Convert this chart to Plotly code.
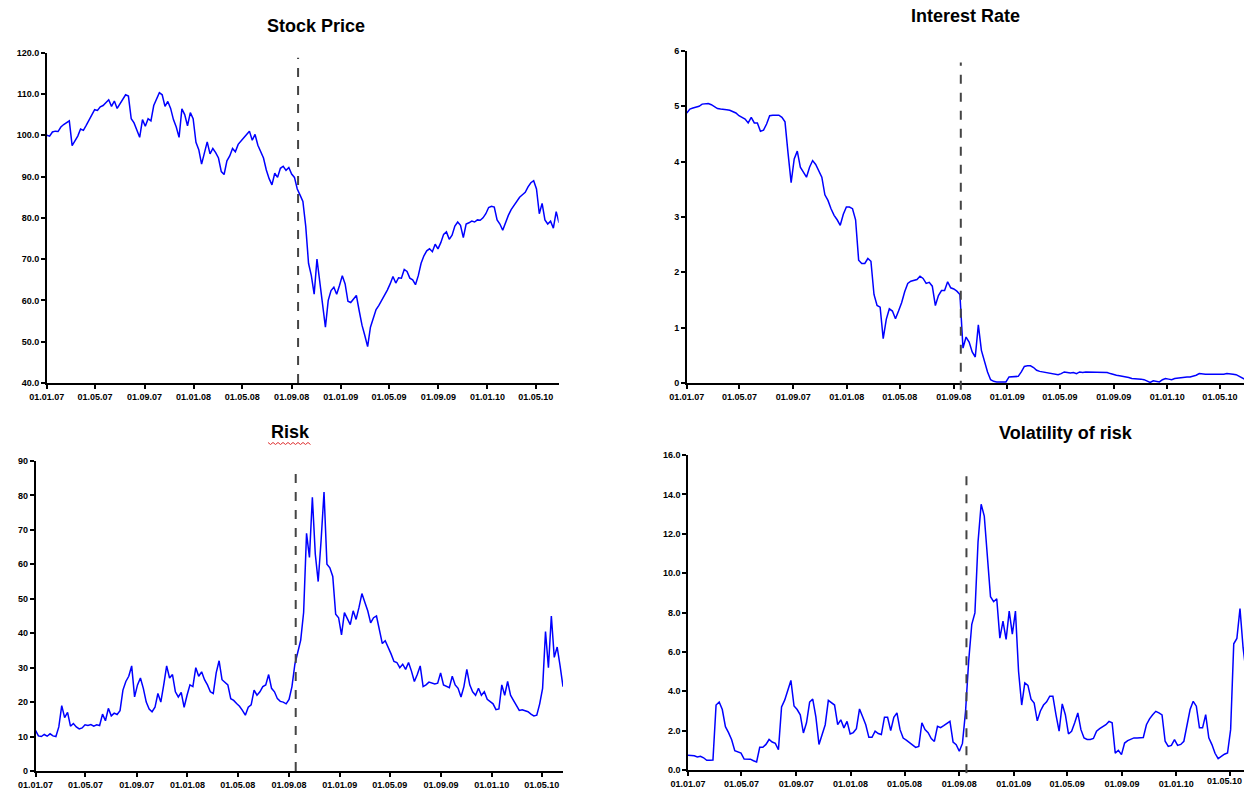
import pandas as pd
import plotly.graph_objects as go

# ---------------- data (weekly readings from the picture) ----------------
dates = pd.date_range("2007-01-01", periods=183, freq="7D")

stock_price = [
    100.0, 99.8, 100.8, 101.0, 100.9, 102.0, 102.6, 103.0, 103.5, 97.5,
    98.6, 99.8, 101.5, 101.2, 102.4, 103.6, 105.0, 106.2, 106.0, 106.9,
    107.2, 107.8, 108.6, 107.0, 108.3, 106.5, 107.6, 108.4, 109.8, 109.5,
    104.0, 103.0, 101.4, 99.5, 103.8, 102.2, 104.0, 103.5, 107.2, 109.0,
    110.3, 109.8, 107.0, 108.2, 106.5, 103.8, 102.0, 99.5, 106.4, 105.0,
    102.3, 105.5, 104.0, 98.3, 96.5, 93.0, 96.0, 98.4, 95.5, 96.8,
    95.8, 94.5, 91.2, 90.5, 93.8, 95.0, 96.8, 96.0, 97.8, 98.5,
    99.4, 100.2, 101.0, 98.8, 100.2, 97.6, 96.0, 94.5, 91.6, 89.5,
    88.0, 90.8, 89.8, 92.0, 92.5, 91.5, 92.2, 90.6, 89.8, 87.0,
    85.5, 84.0, 78.0, 69.0, 66.0, 61.5, 70.0, 64.5, 59.5, 53.5,
    60.0, 62.4, 63.2, 61.5, 63.6, 66.0, 64.0, 59.8, 59.5, 60.5,
    61.2, 57.5, 54.0, 51.5, 48.8, 53.5, 55.8, 57.8, 58.8, 60.0,
    61.0, 62.5, 64.0, 65.8, 64.2, 65.5, 65.4, 67.5, 67.0, 65.4,
    65.0, 63.8, 66.0, 69.0, 70.8, 72.0, 72.5, 71.8, 73.6, 72.5,
    74.0, 76.0, 76.6, 74.8, 75.8, 78.0, 79.0, 78.2, 75.2, 78.5,
    78.8, 79.2, 79.0, 79.5, 79.4, 80.0, 81.0, 82.5, 82.8, 82.6,
    79.5, 78.5, 77.0, 79.0, 80.6, 82.0, 83.0, 84.0, 85.0, 85.6,
    86.2, 87.5, 88.5, 89.0, 87.0, 81.0, 83.5, 79.5, 78.5, 79.2,
    77.5, 81.5, 78.8,
]

interest_rate = [
    4.88, 4.95, 4.97, 4.99, 5.00, 5.04, 5.05, 5.05, 5.03, 5.00,
    4.96, 4.95, 4.95, 4.94, 4.93, 4.91, 4.88, 4.83, 4.80, 4.77,
    4.70, 4.80, 4.70, 4.70, 4.55, 4.57, 4.68, 4.83, 4.84, 4.84,
    4.84, 4.80, 4.72, 4.15, 3.62, 4.05, 4.19, 3.90, 3.80, 3.72,
    3.90, 4.02, 3.95, 3.82, 3.72, 3.40, 3.30, 3.15, 3.03, 2.95,
    2.85, 3.05, 3.18, 3.18, 3.15, 2.95, 2.22, 2.16, 2.16, 2.25,
    2.20, 1.60, 1.40, 1.37, 0.80, 1.15, 1.34, 1.30, 1.16, 1.30,
    1.45, 1.65, 1.80, 1.84, 1.86, 1.87, 1.93, 1.89, 1.80, 1.82,
    1.75, 1.40, 1.58, 1.67, 1.67, 1.83, 1.72, 1.70, 1.66, 1.60,
    0.63, 0.83, 0.74, 0.56, 0.47, 1.05, 0.59, 0.38, 0.20, 0.06,
    0.03, 0.02, 0.02, 0.02, 0.02, 0.11, 0.11, 0.11, 0.12, 0.20,
    0.30, 0.31, 0.31, 0.28, 0.23, 0.21, 0.20, 0.19, 0.19, 0.18,
    0.17, 0.15, 0.17, 0.20, 0.19, 0.18, 0.19, 0.17, 0.20, 0.19,
    0.20, 0.20, 0.20, 0.20, 0.20, 0.20, 0.20, 0.19, 0.17, 0.15,
    0.14, 0.13, 0.12, 0.12, 0.10, 0.08, 0.08, 0.07, 0.07, 0.06,
    0.04, 0.01, 0.04, 0.03, 0.02, 0.06, 0.08, 0.07, 0.06, 0.08,
    0.09, 0.10, 0.11, 0.11, 0.11, 0.12, 0.14, 0.17, 0.16, 0.16,
    0.16, 0.16, 0.16, 0.16, 0.15, 0.16, 0.17, 0.17, 0.16, 0.15,
    0.12, 0.08, 0.06,
]

risk = [
    11.8, 10.2, 10.0, 10.6, 10.1, 10.8, 10.2, 10.0, 12.8, 19.0,
    15.5, 17.0, 13.0, 13.8, 12.8, 12.2, 12.5, 13.4, 13.2, 13.5,
    13.0, 13.4, 13.2, 16.5, 14.6, 18.2, 16.0, 16.8, 16.4, 17.5,
    23.5, 26.0, 27.5, 30.5, 21.5, 25.0, 27.0, 24.0, 20.0, 18.0,
    17.2, 18.5, 22.5, 20.0, 25.0, 30.5, 27.0, 28.0, 23.0, 21.5,
    22.8, 18.5, 22.0, 25.0, 24.5, 30.0, 27.5, 28.8, 26.5, 25.0,
    23.0, 22.5, 28.5, 32.0, 26.5, 25.8, 25.0, 21.0, 20.5, 19.6,
    18.8, 17.6, 16.2, 18.5, 19.2, 23.5, 22.0, 23.0, 24.5, 25.0,
    28.0, 24.0, 23.0, 21.0, 20.2, 20.0, 19.5, 20.8, 24.5, 31.0,
    34.5, 38.0, 46.0, 69.0, 62.0, 79.5, 63.0, 55.0, 67.0, 81.0,
    60.0, 59.0, 56.5, 45.5, 44.5, 39.5, 46.0, 44.0, 42.5, 46.5,
    44.0, 47.5, 51.5, 49.0, 46.5, 43.0, 44.5, 45.0, 40.5, 37.0,
    37.8, 36.0, 34.0, 31.8, 31.5, 30.0, 31.0, 29.5, 31.5, 29.0,
    26.0, 28.0, 30.5, 24.5, 25.0, 25.8, 25.5, 25.3, 25.5, 28.5,
    25.0, 24.5, 24.2, 27.5, 25.0, 24.0, 21.5, 24.5, 29.5, 25.0,
    23.0, 22.0, 24.0, 22.0, 23.0, 20.8, 20.2, 19.5, 17.8, 18.0,
    25.0, 22.0, 26.0, 22.0, 20.5, 19.0, 17.6, 17.8, 17.4, 17.2,
    16.5, 16.0, 16.2, 19.5, 24.0, 40.5, 30.0, 45.0, 33.0, 36.0,
    30.5, 24.5, 29.5,
]

volatility_of_risk = [
    0.75, 0.74, 0.72, 0.66, 0.70, 0.62, 0.49, 0.49, 0.50, 3.30,
    3.45, 3.07, 2.20, 1.90, 1.54, 0.98, 0.90, 0.86, 0.56, 0.57,
    0.55, 0.47, 0.41, 1.15, 1.15, 1.30, 1.55, 1.42, 1.35, 1.03,
    3.20, 3.55, 4.10, 4.55, 3.25, 3.07, 2.80, 1.88, 2.40, 3.45,
    3.60, 2.70, 1.30, 1.80, 2.30, 3.54, 3.40, 3.30, 2.30, 2.55,
    2.14, 2.47, 1.83, 1.90, 2.10, 3.10, 2.70, 2.30, 1.66, 1.66,
    1.97, 1.85, 1.80, 2.68, 2.68, 2.00, 2.68, 2.90, 2.05, 1.62,
    1.52, 1.40, 1.30, 1.15, 1.20, 2.40, 2.05, 1.90, 1.60, 1.45,
    2.22, 2.15, 2.25, 2.35, 2.47, 1.42, 1.29, 0.95, 1.35, 2.98,
    5.53, 7.40, 7.98, 11.58, 13.50, 12.90, 10.95, 8.80, 8.55, 8.70,
    6.70, 7.56, 6.63, 8.07, 6.90, 8.07, 5.00, 3.30, 4.42, 4.30,
    3.60, 3.40, 2.50, 3.00, 3.30, 3.46, 3.75, 3.75, 2.80, 1.97,
    3.36, 2.81, 1.83, 1.97, 2.40, 2.90, 2.05, 1.63, 1.55, 1.55,
    1.60, 1.97, 2.10, 2.20, 2.30, 2.47, 2.40, 0.86, 1.00, 0.78,
    1.37, 1.49, 1.55, 1.63, 1.63, 1.63, 1.65, 2.30, 2.60, 2.81,
    2.98, 2.90, 2.80, 1.46, 1.20, 1.25, 1.54, 1.25, 1.30, 1.46,
    2.30, 3.07, 3.49, 3.24, 2.14, 2.14, 2.81, 1.63, 1.29, 0.85,
    0.58, 0.69, 0.80, 0.86, 2.05, 6.41, 6.68, 8.20, 6.20, 4.93,
]

tick_dates = ["2007-01-01", "2007-05-01", "2007-09-01", "2008-01-01", "2008-05-01",
              "2008-09-01", "2009-01-01", "2009-05-01", "2009-09-01", "2010-01-01",
              "2010-05-01"]
tick_labels = ["01.01.07", "01.05.07", "01.09.07", "01.01.08", "01.05.08",
               "01.09.08", "01.01.09", "01.05.09", "01.09.09", "01.01.10",
               "01.05.10"]
event_date = "2008-09-17"
titles = ["Stock Price", "Interest Rate", "Risk", "Volatility of risk"]

# ---------------- layout helpers ----------------
W, H = 1244, 792
def fx(p):
    return p / W
def fy(p):
    return 1 - p / H

FONT = "Arial, Liberation Sans, sans-serif"
LINE = dict(color="#0000FF", width=1.5)
TICKFONT = dict(family=FONT, size=9, color="#000000", weight="bold")

fig = go.Figure()
series = [
    (stock_price, "x", "y"),
    (interest_rate, "x2", "y2"),
    (risk, "x3", "y3"),
    (volatility_of_risk, "x4", "y4"),
]
for vals, xa, ya in series:
    fig.add_trace(go.Scatter(x=dates[:len(vals)], y=vals, mode="lines", line=LINE,
                             xaxis=xa, yaxis=ya, showlegend=False, hoverinfo="skip"))

def xax(domain, end):
    return dict(domain=domain, type="date", range=["2007-01-01", end],
                tickmode="array", tickvals=tick_dates, ticktext=tick_labels,
                showgrid=False, zeroline=False, showline=True, linecolor="#000000",
                linewidth=1.5, ticks="outside", ticklen=4, tickwidth=1.5,
                tickcolor="#000000", tickfont=TICKFONT, tickangle=0, automargin=False)

def yax(domain, rng, dtick, fmt, anchor):
    return dict(domain=domain, range=rng, dtick=dtick, tick0=0, tickformat=fmt,
                showgrid=False, zeroline=False, showline=True, linecolor="#000000",
                linewidth=1.5, ticks="outside", ticklen=4, tickwidth=1.5,
                tickcolor="#000000", tickfont=TICKFONT, anchor=anchor, automargin=False)

fig.update_layout(
    width=W, height=H, margin=dict(l=0, r=0, t=0, b=0, pad=0, autoexpand=False),
    paper_bgcolor="white", plot_bgcolor="white",
    xaxis=dict(**xax([fx(46.8), fx(558.6)], "2010-06-27"), anchor="y"),
    yaxis=yax([fy(383), fy(52.7)], [40, 120], 10, ".1f", "x"),
    xaxis2=dict(**xax([fx(686.8), 1.0], "2010-06-25"), anchor="y2"),
    yaxis2=yax([fy(383), fy(51)], [0, 6], 1, "d", "x2"),
    xaxis3=dict(**xax([fx(35.5), fx(563)], "2010-06-21"), anchor="y3"),
    yaxis3=yax([fy(771), fy(461)], [0, 90], 10, "d", "x3"),
    xaxis4=dict(**xax([fx(688), 1.0], "2010-06-02"), anchor="y4"),
    yaxis4=yax([fy(770), fy(455)], [0, 16], 2, ".1f", "x4"),
)

# last tick label of the volatility panel sits at the page edge (kept fully visible)
fig.add_annotation(text=tick_labels[-1], x=1.0, xref="paper", y=fy(781), yref="paper",
                   xanchor="right", yanchor="middle", showarrow=False, font=TICKFONT)

# event (dashed vertical) lines
for xa, y0, y1 in [("x", 0, 0.985), ("x2", -0.02, 0.965), ("x3", 0, 0.977), ("x4", -0.01, 0.96)]:
    fig.add_shape(type="line", xref=xa, yref=xa.replace("x", "y") + " domain",
                  x0=event_date, x1=event_date, y0=y0, y1=y1,
                  line=dict(color="#444444", width=2, dash="dash"))

# titles
title_pos = [(316, 26), (965, 16), (290, 432), (1066, 433)]
for t, (px, py) in zip(titles, title_pos):
    fig.add_annotation(text="<b>%s</b>" % t, x=fx(px), y=fy(py), xref="paper", yref="paper",
                       xanchor="center", yanchor="middle", showarrow=False,
                       font=dict(family=FONT, size=18, color="#000000"))

# red spell-check squiggle under "Risk"
pts = []
xp = 268
k = 0
while xp <= 312:
    pts.append((fx(xp), fy(443 + (1.5 if k % 2 else -0.5))))
    xp += 2.5
    k += 1
path = "M " + " L ".join("%f,%f" % p for p in pts)
fig.add_shape(type="path", path=path, xref="paper", yref="paper",
              line=dict(color="#E03030", width=1))

fig.write_html("out.html", config={"displayModeBar": False},
               post_script="document.body.style.margin='0';")
